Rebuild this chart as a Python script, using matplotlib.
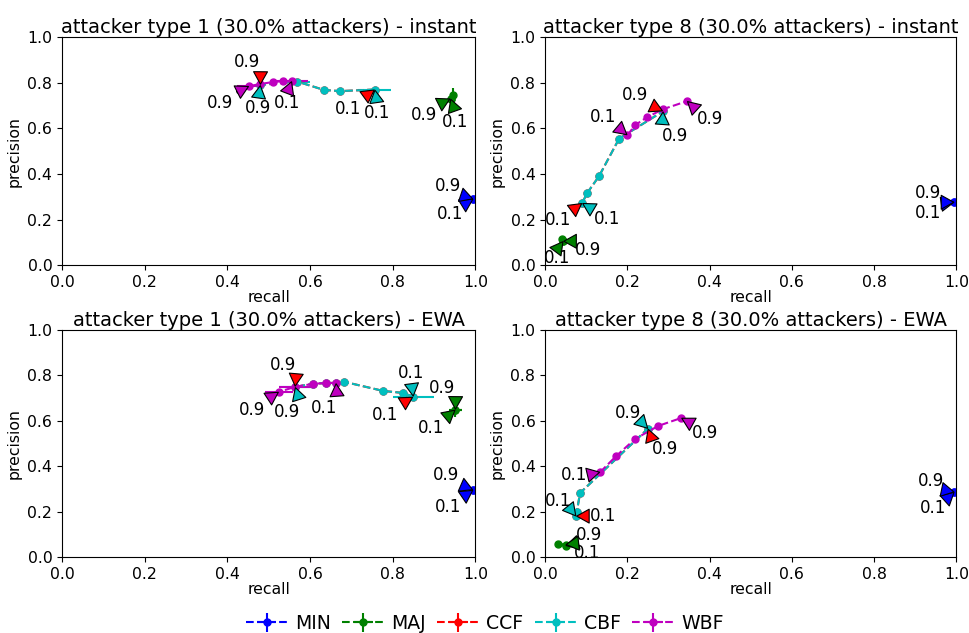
import matplotlib
matplotlib.use('Agg')
import matplotlib.pyplot as plt

names = ['MIN', 'MAJ', 'CCF', 'CBF', 'WBF']
colors = ['b', 'g', 'r', 'c', 'm']
titles = ['attacker type 1 (30.0% attackers) - instant',
          'attacker type 8 (30.0% attackers) - instant',
          'attacker type 1 (30.0% attackers) - EWA',
          'attacker type 8 (30.0% attackers) - EWA']
thr_labels = ['0.1', '0.9']

# values per panel, ordered from threshold 0.1 to 0.9
a_recall = {'MIN': [0.995, 0.995], 'MAJ': [0.94, 0.945, 0.94],
            'CCF': [0.757, 0.673, 0.634, 0.569, 0.48],
            'CBF': [0.757, 0.673, 0.634, 0.569, 0.48],
            'WBF': [0.556, 0.535, 0.511, 0.479, 0.453]}
a_prec = {'MIN': [0.29, 0.29], 'MAJ': [0.73, 0.745, 0.73],
          'CCF': [0.77, 0.763, 0.768, 0.805, 0.79],
          'CBF': [0.77, 0.763, 0.768, 0.805, 0.79],
          'WBF': [0.807, 0.807, 0.803, 0.794, 0.785]}
a_xerr = {'MIN': [0, 0], 'MAJ': [0, 0.005, 0],
          'CCF': [0, 0, 0, 0, 0], 'CBF': [0.04, 0, 0, 0.03, 0],
          'WBF': [0.04, 0, 0, 0, 0.03]}
a_yerr = {'MIN': [0.01, 0.01], 'MAJ': [0, 0.03, 0],
          'CCF': [0, 0, 0, 0, 0], 'CBF': [0, 0, 0, 0, 0],
          'WBF': [0, 0, 0, 0, 0]}

b_recall = {'MIN': [0.995, 0.995], 'MAJ': [0.044, 0.041, 0.044],
            'CCF': [0.09, 0.102, 0.131, 0.18, 0.287],
            'CBF': [0.09, 0.102, 0.131, 0.18, 0.287],
            'WBF': [0.2, 0.219, 0.248, 0.287, 0.345]}
b_prec = {'MIN': [0.276, 0.276], 'MAJ': [0.105, 0.114, 0.105],
          'CCF': [0.272, 0.316, 0.39, 0.555, 0.675],
          'CBF': [0.272, 0.316, 0.39, 0.555, 0.675],
          'WBF': [0.57, 0.614, 0.649, 0.684, 0.719]}
b_xerr = {'MIN': [0, 0], 'MAJ': [0, 0, 0],
          'CCF': [0, 0, 0, 0, 0], 'CBF': [0, 0, 0, 0, 0],
          'WBF': [0.005, 0.005, 0.005, 0.005, 0.005]}
b_yerr = {'MIN': [0.01, 0.01], 'MAJ': [0, 0, 0],
          'CCF': [0, 0, 0, 0, 0], 'CBF': [0, 0.01, 0.01, 0, 0],
          'WBF': [0.01, 0.01, 0.01, 0.01, 0.01]}

c_recall = {'MIN': [0.995, 0.995], 'MAJ': [0.952, 0.952],
            'CCF': [0.85, 0.826, 0.777, 0.683, 0.663, 0.639, 0.607, 0.564],
            'CBF': [0.85, 0.826, 0.777, 0.683, 0.663, 0.639, 0.607, 0.564],
            'WBF': [0.663, 0.639, 0.607, 0.564, 0.525]}
c_prec = {'MIN': [0.295, 0.295], 'MAJ': [0.648, 0.648],
          'CCF': [0.705, 0.722, 0.731, 0.771, 0.766, 0.766, 0.762, 0.749],
          'CBF': [0.705, 0.722, 0.731, 0.771, 0.766, 0.766, 0.762, 0.749],
          'WBF': [0.766, 0.766, 0.762, 0.749, 0.727]}
c_xerr = {'MIN': [0, 0], 'MAJ': [0.015, 0.015],
          'CCF': [0, 0, 0, 0, 0, 0, 0, 0],
          'CBF': [0.05, 0, 0, 0, 0, 0, 0, 0.04],
          'WBF': [0, 0, 0, 0.04, 0.035]}
c_yerr = {'MIN': [0.01, 0.01], 'MAJ': [0.03, 0.03],
          'CCF': [0, 0, 0, 0, 0, 0, 0, 0],
          'CBF': [0, 0, 0, 0, 0, 0, 0, 0],
          'WBF': [0, 0, 0, 0, 0]}

d_recall = {'MIN': [0.995, 0.995], 'MAJ': [0.05, 0.032, 0.05],
            'CCF': [0.075, 0.077, 0.085, 0.25],
            'CBF': [0.075, 0.077, 0.085, 0.25],
            'WBF': [0.134, 0.173, 0.219, 0.275, 0.331]}
d_prec = {'MIN': [0.286, 0.286], 'MAJ': [0.05, 0.057, 0.055],
          'CCF': [0.18, 0.2, 0.282, 0.565],
          'CBF': [0.18, 0.2, 0.282, 0.565],
          'WBF': [0.374, 0.445, 0.52, 0.577, 0.612]}
d_xerr = {'MIN': [0, 0], 'MAJ': [0, 0, 0],
          'CCF': [0, 0, 0, 0], 'CBF': [0, 0, 0, 0],
          'WBF': [0.005, 0.005, 0.005, 0.005, 0.005]}
d_yerr = {'MIN': [0.01, 0.01], 'MAJ': [0, 0, 0],
          'CCF': [0, 0, 0, 0], 'CBF': [0, 0.01, 0.01, 0],
          'WBF': [0.01, 0.01, 0.01, 0.01, 0.01]}

# label offsets in pixels (threshold 0.1, threshold 0.9)
a_off = {'MIN': [(-23, -15), (-25, 13)], 'MAJ': [(5, -23), (-27, -16)],
         'CCF': [(-27, -19), (-13, 23)], 'CBF': [(2, -23), (-2, -23)],
         'WBF': [(-5, -22), (-29, -17)]}
b_off = {'MIN': [(-26, -11), (-26, 9)], 'MAJ': [(-6, -17), (25, -9)],
         'CCF': [(-24, -17), (-28, 16)], 'CBF': [(25, -16), (12, -25)],
         'WBF': [(-24, 18), (23, -18)]}
c_off = {'MIN': [(-25, -17), (-27, 15)], 'MAJ': [(-24, -18), (-13, 22)],
         'CCF': [(-28, -18), (-12, 22)], 'CBF': [(-2, 24), (-8, -25)],
         'WBF': [(-12, -25), (-27, -18)]}
d_off = {'MIN': [(-21, -16), (-23, 11)], 'MAJ': [(21, -7), (23, 10)],
         'CCF': [(27, 0), (17, -20)], 'CBF': [(-18, 15), (-20, 16)],
         'WBF': [(-26, -3), (24, -15)]}

panels = [(a_recall, a_prec, a_xerr, a_yerr, a_off),
          (b_recall, b_prec, b_xerr, b_yerr, b_off),
          (c_recall, c_prec, c_xerr, c_yerr, c_off),
          (d_recall, d_prec, d_xerr, d_yerr, d_off)]

rects = [[0.064, 0.581, 0.426, 0.3605],
         [0.562, 0.581, 0.424, 0.3605],
         [0.064, 0.120, 0.426, 0.359],
         [0.562, 0.120, 0.424, 0.359]]

fig = plt.figure(figsize=(9.7, 6.33), dpi=100)
handles = []
for k, (rec, prec, xerr, yerr, off) in enumerate(panels):
    ax = fig.add_axes(rects[k])
    for name, col in zip(names, colors):
        h = ax.errorbar(rec[name], prec[name], xerr=xerr[name], yerr=yerr[name],
                        fmt='--o', color=col, markersize=5, label=name)
        if k == 0:
            handles.append(h)
        ends = [(rec[name][0], prec[name][0]), (rec[name][-1], prec[name][-1])]
        for pt, lab, o in zip(ends, thr_labels, off[name]):
            ax.annotate(lab, xy=pt, xytext=o, textcoords='offset pixels',
                        ha='center', va='center', fontsize=12,
                        arrowprops=dict(facecolor=col, edgecolor='k', lw=0.8,
                                        width=1, headwidth=10, headlength=9,
                                        shrink=0.05))
    ax.set_xlim(0, 1)
    ax.set_ylim(0, 1)
    ax.tick_params(labelsize=11.3)
    ax.set_xlabel('recall', fontsize=11.3, labelpad=0)
    ax.set_ylabel('precision', fontsize=11.3)
    ax.set_title(titles[k], fontsize=14, pad=3)

fig.legend(handles=handles, labels=names, loc='lower center',
           bbox_to_anchor=(0.5, -0.027), ncol=5, frameon=False, fontsize=13.6,
           handlelength=2.2, columnspacing=0.6, handletextpad=0.4)

fig.savefig('out.png', dpi=100)
